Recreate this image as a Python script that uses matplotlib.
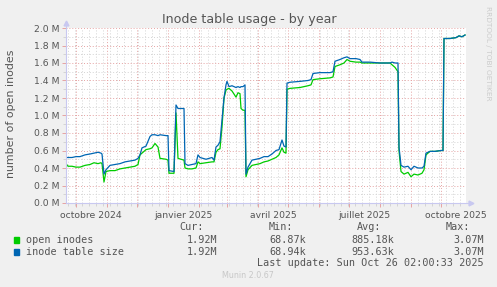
import matplotlib
matplotlib.use('Agg')
import matplotlib.pyplot as plt
import matplotlib.dates as mdates
import matplotlib.ticker as ticker
import numpy as np
from matplotlib.patches import Rectangle

# daily points (values in millions)
dates = ['2024-09-21', '2024-09-23', '2024-09-27', '2024-10-01', '2024-10-05', '2024-10-10',
         '2024-10-15', '2024-10-19', '2024-10-23', '2024-10-26', '2024-10-27', '2024-10-29',
         '2024-10-31', '2024-11-04', '2024-11-09', '2024-11-14', '2024-11-19', '2024-11-24',
         '2024-11-29', '2024-12-02', '2024-12-04', '2024-12-06', '2024-12-10', '2024-12-14',
         '2024-12-16', '2024-12-19', '2024-12-22', '2024-12-24', '2024-12-30', '2025-01-01',
         '2025-01-02', '2025-01-07', '2025-01-09', '2025-01-11', '2025-01-17', '2025-01-18',
         '2025-01-21', '2025-01-25', '2025-01-29', '2025-01-31', '2025-02-02', '2025-02-08',
         '2025-02-14', '2025-02-16', '2025-02-18', '2025-02-20', '2025-02-22', '2025-02-24',
         '2025-02-26', '2025-02-28', '2025-03-01', '2025-03-03', '2025-03-06', '2025-03-10',
         '2025-03-12', '2025-03-14', '2025-03-15', '2025-03-17', '2025-03-19', '2025-03-20',
         '2025-03-22', '2025-03-26', '2025-03-30', '2025-04-03', '2025-04-07', '2025-04-11',
         '2025-04-15', '2025-04-19', '2025-04-22', '2025-04-25', '2025-04-27', '2025-04-29',
         '2025-04-30', '2025-05-03', '2025-05-13', '2025-05-21', '2025-05-24', '2025-05-26',
         '2025-06-02', '2025-06-12', '2025-06-15', '2025-06-17', '2025-06-22', '2025-06-26',
         '2025-06-29', '2025-07-02', '2025-07-08', '2025-07-12', '2025-07-14', '2025-07-22',
         '2025-08-01', '2025-08-11', '2025-08-13', '2025-08-16', '2025-08-19', '2025-08-20',
         '2025-08-22', '2025-08-25', '2025-08-29', '2025-09-01', '2025-09-04', '2025-09-08',
         '2025-09-12', '2025-09-14', '2025-09-16', '2025-09-20', '2025-09-25', '2025-10-01',
         '2025-10-03', '2025-10-04', '2025-10-10', '2025-10-16', '2025-10-19', '2025-10-22',
         '2025-10-25']

inode_table_size = [0.52, 0.52, 0.52, 0.53, 0.53, 0.55, 0.56, 0.57, 0.58, 0.57, 0.56, 0.33,
                    0.38, 0.43, 0.44, 0.45, 0.47, 0.48, 0.49, 0.51, 0.55, 0.63, 0.65, 0.76,
                    0.78, 0.78, 0.77, 0.78, 0.77, 0.77, 0.37, 0.36, 1.12, 1.08, 1.08, 0.45,
                    0.43, 0.44, 0.45, 0.55, 0.52, 0.50, 0.52, 0.49, 0.64, 0.66, 0.70, 0.95,
                    1.20, 1.35, 1.39, 1.33, 1.34, 1.32, 1.33, 1.32, 1.33, 1.33, 1.35, 0.33,
                    0.41, 0.49, 0.50, 0.51, 0.53, 0.53, 0.56, 0.60, 0.61, 0.72, 0.65, 0.64,
                    1.37, 1.38, 1.39, 1.40, 1.41, 1.48, 1.49, 1.49, 1.50, 1.62, 1.64, 1.66,
                    1.67, 1.65, 1.65, 1.64, 1.61, 1.61, 1.60, 1.60, 1.61, 1.60, 1.60, 0.64,
                    0.43, 0.41, 0.42, 0.38, 0.42, 0.40, 0.40, 0.42, 0.57, 0.59, 0.59, 0.60,
                    0.60, 1.88, 1.88, 1.89, 1.91, 1.90, 1.92]

open_inodes = [0.45, 0.42, 0.42, 0.41, 0.41, 0.43, 0.44, 0.46, 0.45, 0.46, 0.45, 0.24,
               0.36, 0.37, 0.37, 0.39, 0.40, 0.41, 0.42, 0.44, 0.55, 0.57, 0.61, 0.62,
               0.63, 0.68, 0.64, 0.51, 0.50, 0.49, 0.34, 0.34, 1.03, 0.51, 0.49, 0.40,
               0.39, 0.39, 0.40, 0.47, 0.45, 0.46, 0.47, 0.47, 0.58, 0.61, 0.62, 0.87,
               1.20, 1.29, 1.30, 1.31, 1.28, 1.21, 1.26, 1.25, 1.08, 1.06, 1.06, 0.30,
               0.38, 0.43, 0.44, 0.45, 0.47, 0.48, 0.50, 0.52, 0.55, 0.63, 0.58, 0.57,
               1.30, 1.31, 1.32, 1.34, 1.35, 1.41, 1.42, 1.43, 1.44, 1.56, 1.58, 1.60,
               1.64, 1.62, 1.61, 1.61, 1.60, 1.60, 1.60, 1.60, 1.58, 1.55, 1.50, 0.60,
               0.36, 0.33, 0.35, 0.30, 0.33, 0.32, 0.34, 0.38, 0.55, 0.59, 0.59, 0.60,
               0.60, 1.88, 1.88, 1.89, 1.91, 1.90, 1.92]

month_labels = ['octobre 2024', 'janvier 2025', 'avril 2025', 'juillet 2025', 'octobre 2025']
label_dates = ['2024-10-16', '2025-01-16', '2025-04-16', '2025-07-16', '2025-10-16']

legend_names = ['open inodes', 'inode table size']
legend_cur = ['1.92M', '1.92M']
legend_min = ['68.87k', '68.94k']
legend_avg = ['885.18k', '953.63k']
legend_max = ['3.07M', '3.07M']

GREEN = '#00cc00'
BLUE = '#0066b3'
TEXT = '#555555'
MAJOR = '#e6a3a3'
MINOR = '#d4d4d4'
AXIS = '#c8c8f0'

W, H = 497, 287
fig = plt.figure(figsize=(W / 100, H / 100), dpi=100, facecolor='#f0f0f0')
ax = fig.add_axes([66 / W, (H - 203) / H, 400 / W, 175 / H])
ax.set_facecolor('white')

x = np.array(dates, dtype='datetime64[D]')
ax.plot(x, open_inodes, color=GREEN, lw=0.9, zorder=3)
ax.plot(x, inode_table_size, color=BLUE, lw=0.9, zorder=4)

ax.set_xlim(np.datetime64('2024-09-21'), np.datetime64('2025-10-26'))
ax.set_ylim(0, 2.0)

ax.xaxis.set_major_locator(mdates.MonthLocator())
ax.xaxis.set_minor_locator(mdates.WeekdayLocator(byweekday=mdates.MO))
ax.xaxis.set_major_formatter(ticker.NullFormatter())
ax.yaxis.set_major_locator(ticker.MultipleLocator(0.2))
ax.yaxis.set_minor_locator(ticker.MultipleLocator(0.1))
ax.yaxis.set_major_formatter(ticker.FuncFormatter(lambda v, p: '%.1f M' % v))

ax.grid(which='major', color=MAJOR, linestyle=(0, (1, 2)), lw=0.7)
ax.grid(which='minor', color=MINOR, linestyle=(0, (1, 2)), lw=0.7)
ax.set_axisbelow(True)

ax.tick_params(which='major', length=3, width=0.7, color=MAJOR, labelsize=6.7, labelcolor=TEXT, pad=2)
ax.tick_params(which='minor', length=2, width=0.7, color=MINOR)

for s in ['top', 'right', 'left', 'bottom']:
    ax.spines[s].set_visible(False)
# rrdtool style axes with arrows
ax.plot([0, 1.012], [0, 0], color=AXIS, lw=0.8, transform=ax.transAxes, clip_on=False, zorder=5)
ax.plot([0, 0], [0, 1.03], color=AXIS, lw=0.8, transform=ax.transAxes, clip_on=False, zorder=5)
ax.plot([1.012], [0], marker='>', ms=3.5, color=AXIS, transform=ax.transAxes, clip_on=False, zorder=5)
ax.plot([0], [1.03], marker='^', ms=3.5, color=AXIS, transform=ax.transAxes, clip_on=False, zorder=5)

for d, lab in zip(label_dates, month_labels):
    ax.text(np.datetime64(d), -0.045, lab, transform=ax.get_xaxis_transform(),
            ha='center', va='top', fontsize=6.7, color=TEXT)

fig.text(249 / W, 1 - 19 / H, 'Inode table usage - by year', ha='center', va='center',
         fontsize=9.1, color=TEXT)
fig.text(11 / W, 1 - 114 / H, 'number of open inodes', rotation=90, ha='center', va='center',
         fontsize=7.9, color=TEXT)
fig.text(488 / W, 1 - 53 / H, 'RRDTOOL / TOBI OETIKER', rotation=270, ha='center', va='center',
         fontsize=5.3, color='#cccccc')

mono = 'DejaVu Sans Mono'
fs = 7.3
def ftext(px, py, s, ha='left', color=TEXT, **kw):
    fig.text(px / W, 1 - py / H, s, ha=ha, va='center', fontsize=fs, family=mono, color=color, **kw)

ftext(204, 227, 'Cur:', ha='right')
ftext(293, 227, 'Min:', ha='right')
ftext(381, 227, 'Avg:', ha='right')
ftext(470, 227, 'Max:', ha='right')
for i, c in enumerate([GREEN, BLUE]):
    py = 240 + i * 12
    fig.patches.append(Rectangle((14 / W, 1 - (py + 2.7) / H), 5.3 / W, 5.3 / H,
                                 transform=fig.transFigure, color=c))
    ftext(26.5, py, legend_names[i])
    ftext(217.5, py, legend_cur[i], ha='right')
    ftext(306, py, legend_min[i], ha='right')
    ftext(394, py, legend_avg[i], ha='right')
    ftext(483.5, py, legend_max[i], ha='right')
ftext(483.5, 263.5, 'Last update: Sun Oct 26 02:00:33 2025', ha='right')
fig.text(248 / W, 1 - 276 / H, 'Munin 2.0.67', ha='center', va='center', fontsize=5.8, color='#c8c8c8')

fig.savefig('out.png', dpi=100, facecolor=fig.get_facecolor())
